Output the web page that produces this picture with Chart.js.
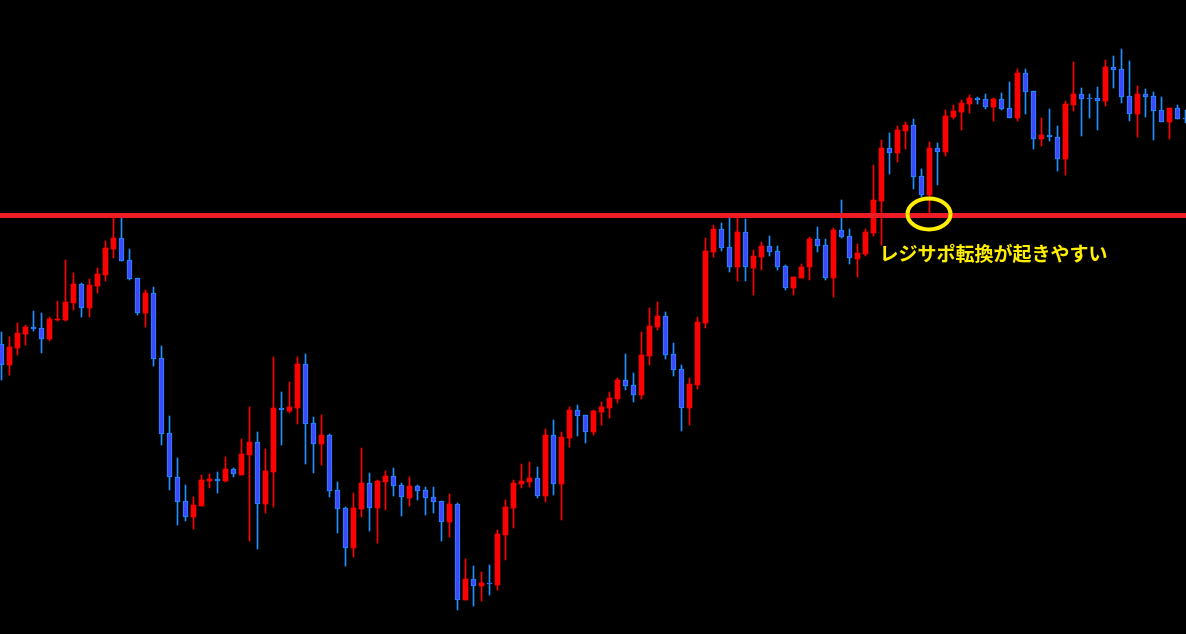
<!DOCTYPE html>
<html>
<head>
<meta charset="utf-8">
<script src="https://cdn.jsdelivr.net/npm/chart.js@4/dist/chart.umd.min.js"></script>
<style>
  html, body { margin: 0; padding: 0; background: #000; overflow: hidden; }
  canvas { display: block; }
</style>
</head>
<body>
<canvas id="chart" width="1186" height="634"></canvas>
<script>
// price levels (one candle per bar)
const opens = [290,269,286,300,307,306,295,314,314,331,350,326,348,359,385,396,374,356,321,341,
  276,201,157,133,117,128,153,155,153,165,159,179,192,130,162,226,223,226,270,211,
  190,199,144,126,86,125,151,126,152,158,149,136,148,144,137,133,112,130,34,55,
  48,51,49,99,126,150,152,156,138,199,150,196,224,219,202,222,226,235,254,249,
  239,278,307,318,280,265,226,249,311,382,405,387,367,402,366,377,388,383,368,346,
  356,367,395,389,356,404,398,375,380,401,433,486,481,503,509,458,439,486,482,517,
  522,530,536,535,527,535,526,516,561,543,495,499,497,475,529,540,536,536,533,567,
  565,538,520,540,538,524,512,526,516];
const highs = [302,297,311,309,323,321,317,333,374,361,351,355,366,393,417,417,385,356,344,347,
  288,218,176,149,137,159,160,162,177,166,195,227,202,185,277,242,252,277,280,217,
  219,200,152,127,141,186,161,154,163,166,151,157,149,147,147,133,140,131,75,68,
  62,69,104,134,154,170,172,167,205,214,202,227,229,219,224,232,242,256,280,261,
  302,326,332,322,291,269,256,317,396,409,411,417,417,415,384,392,398,388,369,357,
  370,397,407,395,406,434,405,390,405,469,494,501,508,512,515,465,492,491,524,529,
  534,539,537,540,536,541,552,565,565,543,516,525,508,533,572,546,540,547,574,578,
  585,573,548,545,542,537,526,529,524];
const lows = [254,259,279,289,303,281,293,313,313,324,317,317,341,353,376,373,354,319,307,268,
  189,144,109,113,105,128,146,141,152,157,159,93,85,121,127,189,221,210,170,161,
  169,137,101,68,77,117,103,91,124,138,118,128,134,119,121,93,97,24,34,28,
  33,39,44,74,106,146,147,136,132,139,114,187,198,191,199,209,216,231,244,232,
  235,269,304,275,258,203,209,245,306,377,383,362,353,353,339,364,378,364,344,339,
  356,354,382,354,337,396,370,357,378,398,389,460,472,485,445,437,421,449,478,515,
  504,521,530,525,513,524,516,513,520,485,488,493,463,459,523,498,516,504,528,546,
  531,513,497,517,494,512,495,515,511];
const closes = [269,287,301,307,305,295,315,315,332,350,326,349,360,386,396,373,355,321,341,275,
  200,157,132,117,129,154,155,153,165,160,180,192,130,163,226,224,227,270,210,190,
  199,143,125,86,126,151,126,153,158,148,137,148,143,136,132,112,130,34,55,48,
  51,50,100,127,151,153,156,138,199,150,197,224,218,202,223,227,236,254,248,239,
  279,308,318,279,264,226,250,312,383,405,386,367,402,367,378,388,382,367,346,357,
  367,395,388,356,404,397,376,381,402,434,486,481,504,509,457,439,486,482,518,523,
  531,536,534,527,535,525,516,561,542,495,499,497,475,530,540,535,535,533,567,564,
  537,520,540,537,523,512,526,515,515];

const supportLevel = 418.5;
const markIndex = 116;           // candle circled by the note
const noteText = 'レジサポ転換が起きやすい';

const UP = '#ff0000';
const DOWN_FILL = '#3f48ff';
const DOWN_EDGE = '#1e90ff';

const bodies = opens.map((o, i) => ({ x: i, y: [o, closes[i]] }));
const wicks = opens.map((o, i) => ({ x: i, y: [lows[i], highs[i]] }));
const isUp = i => closes[i] > opens[i];

const notePlugin = {
  id: 'note',
  afterDatasetsDraw(chart) {
    const ctx = chart.ctx;
    const xs = chart.scales.x, ys = chart.scales.y;
    const cx = xs.getPixelForValue(markIndex);
    const cy = ys.getPixelForValue(supportLevel);
    ctx.save();
    ctx.strokeStyle = '#ffee00';
    ctx.lineWidth = 4;
    ctx.beginPath();
    ctx.ellipse(cx - 0.5, cy - 1.5, 21.5, 15.5, 0, 0, Math.PI * 2);
    ctx.stroke();
    ctx.fillStyle = '#ffee00';
    ctx.font = 'bold 19px "Noto Sans CJK JP"';
    ctx.textBaseline = 'middle';
    ctx.textAlign = 'left';
    ctx.fillText(noteText, xs.getPixelForValue(109.75), ys.getPixelForValue(380));
    ctx.restore();
  }
};

new Chart(document.getElementById('chart'), {
  type: 'bar',
  data: {
    datasets: [
      {
        type: 'line',
        data: [{ x: -1, y: supportLevel }, { x: 150, y: supportLevel }],
        borderColor: '#ed1c24',
        borderWidth: 5,
        pointRadius: 0,
        order: -1
      },
      {
        data: bodies,
        grouped: false,
        barThickness: 5,
        minBarLength: 1,
        borderSkipped: false,
        backgroundColor: c => isUp(c.dataIndex) ? UP : DOWN_FILL,
        borderColor: c => isUp(c.dataIndex) ? UP : DOWN_EDGE,
        borderWidth: c => isUp(c.dataIndex) ? 0 : 1,
        order: 0
      },
      {
        data: wicks,
        grouped: false,
        barThickness: 1,
        borderWidth: 0,
        backgroundColor: c => isUp(c.dataIndex) ? UP : DOWN_EDGE,
        order: 1
      }
    ]
  },
  options: {
    responsive: false,
    devicePixelRatio: 1,
    animation: false,
    layout: { padding: 0 },
    plugins: { legend: { display: false }, tooltip: { enabled: false } },
    scales: {
      x: { type: 'linear', display: false, offset: false, min: -0.1875, max: 148.0625 },
      y: { type: 'linear', display: false, min: 0, max: 634 }
    }
  },
  plugins: [notePlugin]
});
</script>
</body>
</html>
